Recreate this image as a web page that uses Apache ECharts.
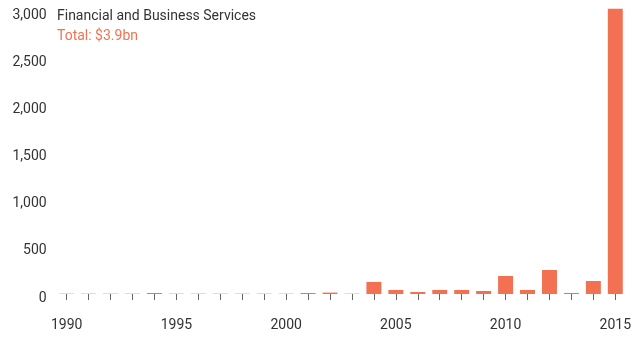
<!DOCTYPE html>
<html>
<head>
<meta charset="utf-8">
<script src="https://cdn.jsdelivr.net/npm/echarts@6/dist/echarts.min.js"></script>
<style>html,body{margin:0;padding:0;background:#fff}#c{width:634px;height:339px}</style>
</head>
<body>
<div id="c"></div>
<script>
var years = ['1990','1991','1992','1993','1994','1995','1996','1997','1998','1999','2000','2001','2002','2003','2004','2005','2006','2007','2008','2009','2010','2011','2012','2013','2014','2015'];
var values = [0,0,0,0,10,0,0,0,0,0,0,8,15,0,128,43,21,43,43,32,191,43,255,11,138,3030];
var yTicks = [0,500,1000,1500,2000,2500,3000];
var title = 'Financial and Business Services';
var subtitle = 'Total: $3.9bn';

var FONT = 'Roboto';
var chart = echarts.init(document.getElementById('c'), null, {renderer:'canvas'});
chart.setOption({
  animation:false,
  backgroundColor:'#fff',
  title:{
    text:title, subtext:subtitle, left:52, top:4, itemGap:6,
    textStyle:{fontFamily:FONT,fontSize:14,fontWeight:'normal',color:'#333'},
    subtextStyle:{fontFamily:FONT,fontSize:14,color:'#f37153'}
  },
  grid:{left:55.7, right:5.5, top:11.5, bottom:45, containLabel:false},
  xAxis:{
    type:'category', data:years, offset:5,
    axisLine:{show:false},
    axisTick:{show:true, alignWithLabel:true, interval:0, length:6, lineStyle:{color:'#666',width:1}},
    axisLabel:{interval:4, margin:19, fontFamily:FONT, fontSize:14, color:'#333'}
  },
  yAxis:{
    type:'value', min:0, max:yTicks[yTicks.length-1], interval:500,
    splitLine:{show:false}, axisLine:{show:false}, axisTick:{show:false},
    axisLabel:{margin:9, fontFamily:FONT, fontSize:14, color:'#333', verticalAlign:'top', lineHeight:8,
      formatter:function(v){return v.toLocaleString('en-US');}}
  },
  series:[{
    type:'bar', data:values, barWidth:15, barMinHeight:1, clip:false,
    itemStyle:{color:function(p){return p.value===0?'#fcd3c8':'#f37153';}}
  }]
});
</script>
</body>
</html>
